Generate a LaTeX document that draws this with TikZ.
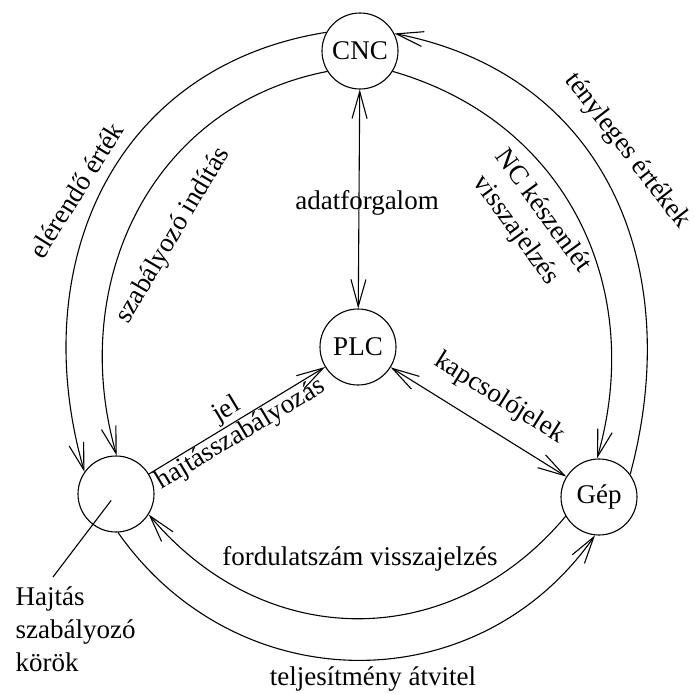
\documentclass[tikz,border=0pt]{standalone}
\usepackage{fontspec}
\setmainfont{Liberation Serif}
\usetikzlibrary{arrows.meta}

\begin{document}
\begin{tikzpicture}[
  x=1pt, y=1pt,
  unit/.style={draw, circle, minimum size=76pt, inner sep=0pt},
  lbl/.style={anchor=base, inner sep=0pt},
  arr/.style={-{Straight Barb[length=27pt, width=15pt]}},
  darr/.style={{Straight Barb[length=27pt, width=15pt]}-{Straight Barb[length=27pt, width=15pt]}},
  every node/.style={font=\fontsize{27}{33}\selectfont},
  line width=1.1pt
]
  \useasboundingbox (0,0) rectangle (695,-693);

  \node[unit] (cnc) at (360,-51) {CNC};
  \node[unit] (plc) at (358,-347) {PLC};
  \node[unit] (drv) at (116,-494) {};
  \node[unit] (gep) at (599,-497) {Gép};

  % straight links
  \draw[darr] (cnc) -- (plc);
  \draw[arr] (drv) -- (plc);
  \draw[darr] (plc) -- (gep);

  % ring
  \draw[arr] (cnc.151) to[out=189, in=106, looseness=1.1] (drv.145);
  \draw[arr] (cnc.212) to[out=191, in=106, looseness=1.05] (drv.89);
  \draw[arr] (gep.36) to[out=75, in=-11, looseness=1.1] (cnc.27);
  \draw[arr] (cnc.-32) to[out=-16, in=74, looseness=1.05] (gep.93);
  \draw[arr] (gep.210) to[out=230, in=-50, looseness=1.1] (drv.-32);
  \draw[arr] (drv.-87) to[out=-55, in=235, looseness=1.1] (gep.264);

  % labels
  \node[lbl] (adat) at (367,-209) {adatforgalom};
  \node[lbl, rotate=-32] (kapcs) at (496,-404) {kapcsolójelek};
  \node[lbl, rotate=31] (jel) at (230,-416) {jel};
  \node[lbl, rotate=31] (hajtszab) at (244,-440) {hajtásszabályozás};
  \node[lbl, rotate=58] (elerendo) at (84,-195) {elérendő érték};
  \node[lbl, rotate=59.5] (szabind) at (179,-239) {szabályozó indítás};
  \node[lbl, rotate=-52.4] (tenyl) at (622,-155) {tényleges értékek};
  \node[rotate=-54, align=center, inner sep=0pt] (ncvissza) at (529,-221) {NC készenlét\\visszajelzés};
  \node[lbl] (fordvissza) at (360,-565) {fordulatszám visszajelzés};
  \node[lbl] (teljatv) at (373,-685) {teljesítmény átvitel};
  \node[align=left, anchor=north west, inner sep=0pt] (hajtkor) at (15,-586) {Hajtás\\szabályozó\\körök};

  \coordinate (lead) at (53,-577);
  \draw[shorten >=8pt] (lead) -- (drv.center);
\end{tikzpicture}
\end{document}
